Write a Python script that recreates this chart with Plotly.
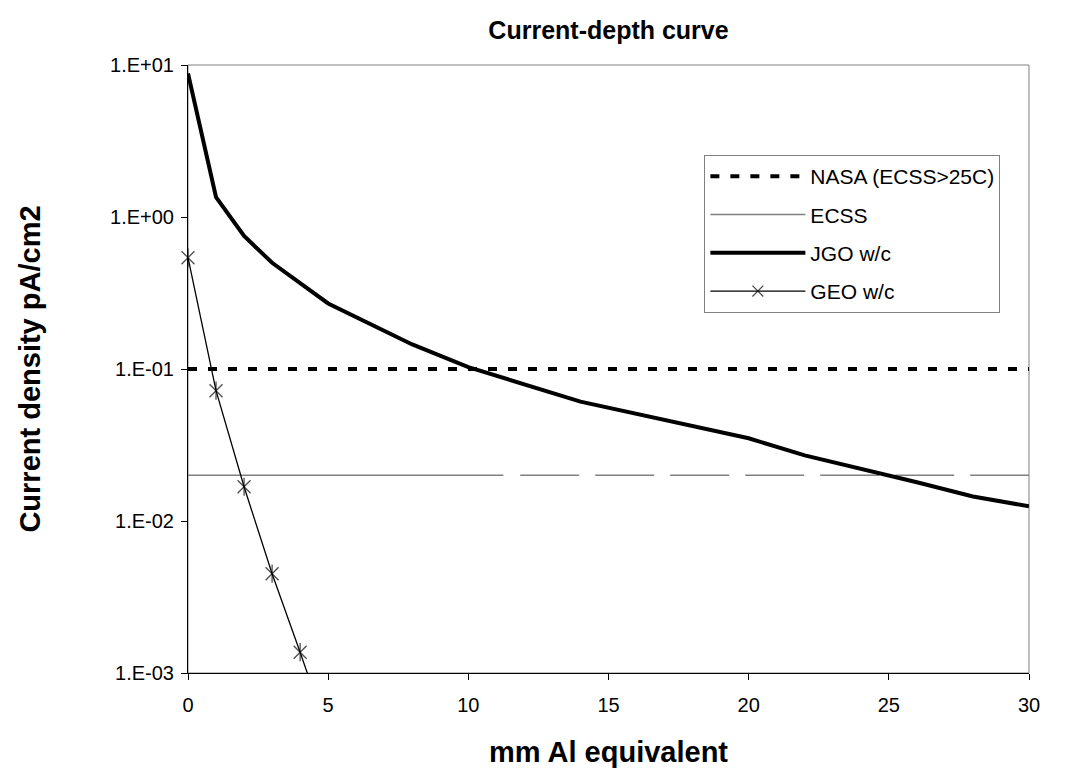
import plotly.graph_objects as go

# ---- data ----
jgo_x = [0, 1, 2, 3, 5, 8, 10, 14, 20, 22, 26, 28, 30]
jgo_y = [8.8, 1.35, 0.75, 0.50, 0.27, 0.145, 0.103, 0.061, 0.035, 0.027, 0.018, 0.0145, 0.0125]

geo_x = [0, 1, 2, 3, 4, 5]
geo_y = [0.54, 0.072, 0.0168, 0.0045, 0.00137, 0.00040]

nasa_x = [0, 30]
nasa_y = [0.1, 0.1]

ecss_solid_x = [0, 11.25]
ecss_dash_x = [11.85, 30]
ecss_level = 0.02

x_ticks = [0, 5, 10, 15, 20, 25, 30]
y_tickvals = [1e-3, 1e-2, 1e-1, 1e0, 1e1]
y_ticktext = ["1.E-03", "1.E-02", "1.E-01", "1.E+00", "1.E+01"]

FONT = "Liberation Sans, Arial, sans-serif"

fig = go.Figure()

fig.add_trace(go.Scatter(
    x=nasa_x, y=nasa_y, mode="lines", name="NASA (ECSS>25C)", legendgroup="a",
    line=dict(color="black", width=4, dash="9px,11px")))

fig.add_trace(go.Scatter(
    x=ecss_solid_x, y=[ecss_level] * len(ecss_solid_x), mode="lines", name="ECSS",
    legendgroup="b", line=dict(color="#808080", width=1.5)))
fig.add_trace(go.Scatter(
    x=ecss_dash_x, y=[ecss_level] * len(ecss_dash_x), mode="lines", name="ECSS",
    legendgroup="b", showlegend=False,
    line=dict(color="#808080", width=1.5, dash="59px,16px")))

fig.add_trace(go.Scatter(
    x=jgo_x, y=jgo_y, mode="lines", name="JGO w/c", legendgroup="c",
    line=dict(color="black", width=4)))

marker_sizes = [13, 13, 13, 13, 13, 0]
fig.add_trace(go.Scatter(
    x=geo_x, y=geo_y, mode="lines+markers", name="GEO w/c", legendgroup="d",
    line=dict(color="black", width=1.3),
    marker=dict(symbol="x-thin-open", size=marker_sizes, color="black",
                line=dict(color="black", width=1.3)),
    cliponaxis=False))
fig.add_trace(go.Scatter(
    x=geo_x, y=geo_y, mode="markers", name="GEO w/c", legendgroup="d", showlegend=False,
    marker=dict(symbol="line-ns-open", size=marker_sizes, color="black",
                line=dict(color="black", width=1.3)),
    cliponaxis=False))

# plot area border (gray)
fig.add_shape(type="rect", xref="paper", yref="paper", x0=0, y0=0, x1=1, y1=1,
              line=dict(color="#808080", width=1), layer="below")

fig.update_layout(
    width=1082, height=768,
    margin=dict(l=188, r=53, t=65, b=95),
    paper_bgcolor="white", plot_bgcolor="white",
    font=dict(family=FONT, color="black"),
    title=dict(text="<b>Current-depth curve</b>", x=0.5, xref="paper", xanchor="center",
               y=1 - 30 / 768, yref="container", yanchor="middle",
               font=dict(size=25, family=FONT, color="black")),
    legend=dict(x=0.614, y=0.852, xanchor="left", yanchor="top",
                bgcolor="white", bordercolor="#808080", borderwidth=1,
                font=dict(size=21, family=FONT, color="black"),
                traceorder="grouped", tracegroupgap=8, itemwidth=95),
    showlegend=True,
)

fig.update_xaxes(
    range=[0, 30], tickvals=x_ticks, ticks="outside", ticklen=6, tickcolor="black",
    showline=True, linecolor="black", linewidth=1, showgrid=False, zeroline=False,
    tickfont=dict(size=20, family=FONT, color="black"), ticklabelstandoff=8,
    automargin=False,
    title=dict(text="<b>mm Al equivalent</b>", font=dict(size=29, family=FONT), standoff=26))

fig.update_yaxes(
    type="log", range=[-3, 1], tickvals=y_tickvals, ticktext=y_ticktext,
    ticks="outside", ticklen=6, tickcolor="black",
    showline=True, linecolor="black", linewidth=1, showgrid=False, zeroline=False,
    tickfont=dict(size=20, family=FONT, color="black"), ticklabelstandoff=3,
    automargin=False,
    title=dict(text="<b>Current density pA/cm2</b>", font=dict(size=29, family=FONT), standoff=60))

fig.write_html("out.html")
